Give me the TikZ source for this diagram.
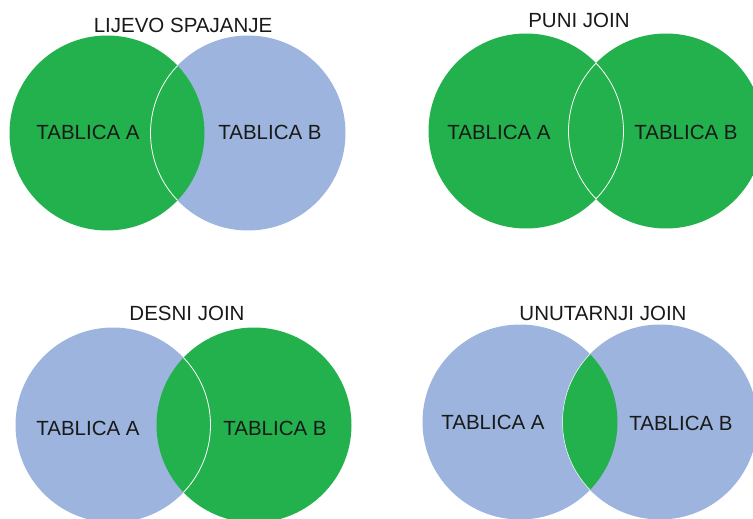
\documentclass[tikz,border=0pt]{standalone}
\usepackage{fontspec}
\setmainfont{Liberation Sans}
\usepackage{tikz}
\usetikzlibrary{positioning}

\definecolor{joingreen}{HTML}{22B14C}
\definecolor{tableblue}{HTML}{9DB5DE}

\begin{document}
\begin{tikzpicture}[x=1pt,y=-1pt,
        set/.style={circle,minimum size=195pt,inner sep=0pt,draw=none},
        lbl/.style={font=\fontsize{20.5}{24}\selectfont,text=black!90,inner sep=0pt},
        edge/.style={draw=white,line width=0.8pt}]
      \useasboundingbox (0,0) rectangle (753,519);
      \clip (0,0) rectangle (753,519);
      % lijevo spajanje
      \node[set,fill=tableblue] (b1) at (248,133) {};
      \node[set,fill=joingreen] (a1) at (107,133) {};
      \begin{scope}
        \clip (a1.center) circle [radius=97.5pt];
        \draw[edge] (b1.center) circle [radius=97.5pt];
      \end{scope}
      \node[lbl] (t1) at (183,25) {LIJEVO SPAJANJE};
      \node[lbl] (la1) at (88,132) {TABLICA A};
      \node[lbl] (lb1) at (270,132) {TABLICA B};
      % puni join
      \node[set,fill=joingreen] (a2) at (526,131) {};
      \node[set,fill=joingreen] (b2) at (666,131) {};
      \begin{scope}
        \clip (a2.center) circle [radius=97.5pt];
        \draw[edge] (b2.center) circle [radius=97.5pt];
      \end{scope}
      \begin{scope}
        \clip (b2.center) circle [radius=97.5pt];
        \draw[edge] (a2.center) circle [radius=97.5pt];
      \end{scope}
      \node[lbl] (t2) at (579,20) {PUNI JOIN};
      \node[lbl] (la2) at (499,132) {TABLICA A};
      \node[lbl] (lb2) at (686,132) {TABLICA B};
      % desni join
      \node[set,fill=tableblue] (a3) at (113,425) {};
      \node[set,fill=joingreen] (b3) at (254,425) {};
      \begin{scope}
        \clip (b3.center) circle [radius=97.5pt];
        \draw[edge] (a3.center) circle [radius=97.5pt];
      \end{scope}
      \node[lbl] (t3) at (187,313) {DESNI JOIN};
      \node[lbl] (la3) at (88,428) {TABLICA A};
      \node[lbl] (lb3) at (275,428) {TABLICA B};
      % unutarnji join
      \node[set,fill=tableblue] (a4) at (520,422) {};
      \node[set,fill=tableblue] (b4) at (660,422) {};
      \begin{scope}
        \clip (a4.center) circle [radius=97.5pt];
        \fill[joingreen] (b4.center) circle [radius=97.5pt];
        \draw[edge,line width=0.5pt] (b4.center) circle [radius=97.5pt];
      \end{scope}
      \node[lbl] (t4) at (603,313) {UNUTARNJI JOIN};
      \node[lbl] (la4) at (493,422) {TABLICA A};
      \node[lbl] (lb4) at (681,423) {TABLICA B};
    \end{tikzpicture}
\end{document}
